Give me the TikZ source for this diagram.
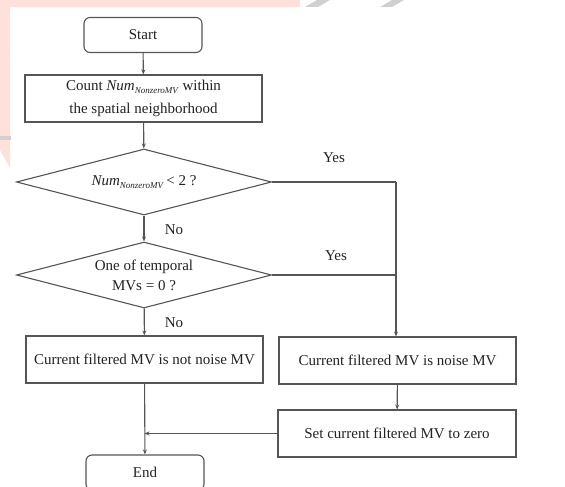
\documentclass[tikz,border=0pt]{standalone}
\usepackage{fontspec}
\setmainfont{Liberation Serif}
\usetikzlibrary{shapes.geometric,arrows.meta}
\definecolor{ln}{HTML}{555555}
\definecolor{wm}{HTML}{FFE0DA}
\definecolor{wg}{HTML}{D0D0D0}
\definecolor{tx}{HTML}{222222}
\newcommand{\numnz}{\textit{Num}\raisebox{-0.45ex}{\fontsize{9}{10}\selectfont\textit{NonzeroMV}}}
\begin{document}
\begin{tikzpicture}[x=1pt,y=-1pt,
  font=\fontsize{15}{21}\selectfont,
  every node/.style={text=tx},
  boxst/.style={draw=ln, line width=1.1pt, rectangle, minimum width=237pt, minimum height=47pt, inner sep=2pt, align=center},
  termst/.style={draw=ln, line width=1.1pt, rectangle, rounded corners=6pt, minimum width=118pt, minimum height=35pt, inner sep=2pt},
  decst/.style={draw=ln, line width=1.1pt, diamond, shape aspect=3.86, minimum width=255pt, minimum height=66pt, inner sep=0pt, align=center},
  conn/.style={draw=ln, line width=1.1pt},
  arr/.style={conn, -{Stealth[length=5pt,width=4pt]}},
  lab/.style={inner sep=0pt}
]
\useasboundingbox (0,0) rectangle (565,487);
% watermark remnants
\fill[wm] (0,0) rectangle (300,7);
\fill[wm] (0,0) rectangle (10,60);
\fill[wm] (0,60) -- (10,60) -- (10,168) -- (0,150) -- cycle;
\fill[wg] (305,7) -- (318,7) -- (330,0) -- (317,0) -- cycle;
\fill[wg] (380,7) -- (392,7) -- (404,0) -- (392,0) -- cycle;
\fill[wg] (0,136) rectangle (11,140);

\node[termst] (start) at (143,35) {Start};
\node[boxst, font=\fontsize{15}{23}\selectfont] (count) at (143.5,98.5) {Count \numnz{} within\\the spatial neighborhood};
\node[decst, font=\fontsize{15}{20}\selectfont] (d1) at (144,182) {\numnz{}\,< 2 ?};
\node[decst, font=\fontsize{15}{20}\selectfont] (d2) at (144,275) {One of temporal\\MVs = 0 ?};
\node[boxst] (notnoise) at (144.5,359.5) {Current filtered MV is not noise MV};
\node[boxst] (noise) at (397.5,360.5) {Current filtered MV is noise MV};
\node[boxst, minimum width=238pt] (set) at (397,433.5) {Set current filtered MV to zero};
\node[termst] (end) at (145,472.5) {End};

\coordinate (c1) at (396,182);
\coordinate (c2) at (396,275);
\coordinate (c3) at (144.5,433.5);

\draw[arr] (start) -- (count);
\draw[arr] (count) -- (d1);
\draw[arr] (d1) -- (d2);
\draw[arr] (d2) -- (notnoise);
\draw[arr] (notnoise) -- (end);
\draw[conn] (d1.east) -- (c1);
\draw[arr] (c1) -- (noise.north -| c1);
\draw[conn] (d2.east) -- (c2);
\draw[arr] (noise) -- (set);
\draw[arr] (set.west) -- (c3);

\node[lab] (no1) at (174,230) {No};
\node[lab] (no2) at (174,323) {No};
\node[lab] (yes1) at (334,158) {Yes};
\node[lab] (yes2) at (336,256) {Yes};
\end{tikzpicture}
\end{document}
